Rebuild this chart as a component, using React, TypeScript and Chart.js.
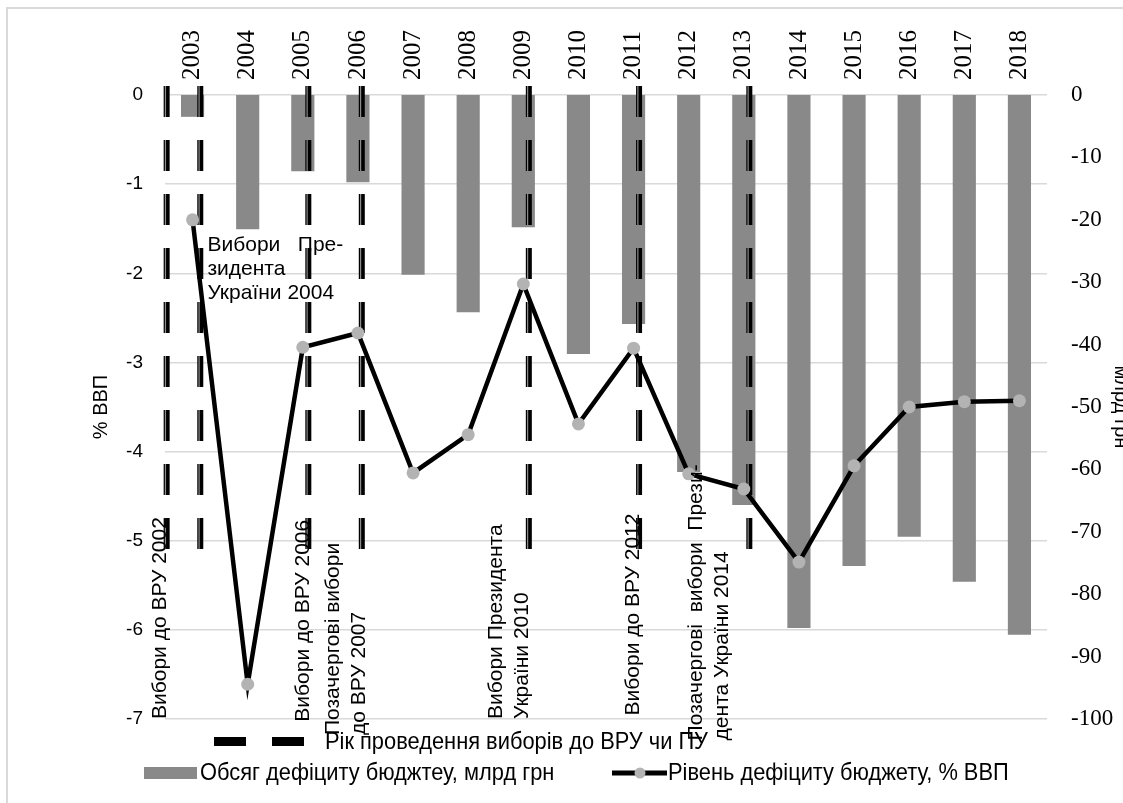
import React, { useEffect, useRef } from "react";
import { Chart, registerables } from "chart.js";

Chart.register(...registerables);

// ---------- data ----------
const years = ["2003", "2004", "2005", "2006", "2007", "2008", "2009", "2010", "2011", "2012", "2013", "2014", "2015", "2016", "2017", "2018"];
// Обсяг дефіциту бюджету, млрд грн (right axis)
const deficitBn = [-3.5, -21.5, -12.2, -14.0, -28.8, -34.8, -21.2, -41.5, -36.7, -60.4, -65.7, -85.4, -75.5, -70.8, -78.0, -86.5];
// Рівень дефіциту бюджету, % ВВП (left axis)
const deficitPct = [-1.4, -6.61, -2.83, -2.67, -4.24, -3.81, -2.12, -3.69, -2.84, -4.25, -4.42, -5.24, -4.16, -3.5, -3.44, -3.43];

const leftAxis = { min: -7, max: 0, step: 1 };
const rightAxis = { min: -100, max: 0, step: 10 };

// election marker lines (category-index positions), spanning left-axis values
const electionLinePos = [-0.47, 0.14, 2.1, 3.07, 6.1, 8.1, 10.1];
const electionLineTop = 0.1;
const electionLineBottom = -5.1;

// rotated annotations: category-index centre, left-axis value of text start (bottom)
const rotatedNotes = [
  { lines: ["Вибори до ВРУ 2002"], x: -0.58, y: -7.0 },
  { lines: ["Вибори до ВРУ 2006"], x: 2.0, y: -7.03 },
  { lines: ["Позачергові вибори", "до ВРУ 2007"], x: 2.79, y: -7.18 },
  { lines: ["Вибори Президента", "України 2010"], x: 5.74, y: -7.0 },
  { lines: ["Вибори до ВРУ 2012"], x: 7.99, y: -6.96 },
  { lines: ["Позачергові  вибори  Прези-", "дента України 2014"], x: 9.37, y: -7.24 },
];
const horizontalNote = { lines: ["Вибори   Пре-", "зидента", "України 2004"], x: 0.27, y: -1.68 };

const legendElections = "Рік проведення виборів до ВРУ чи ПУ";
const legendBars = "Обсяг дефіциту бюджтеу, млрд грн";
const legendLine = "Рівень дефіциту бюджету, % ВВП";

const SANS = '"Liberation Sans", Arial, sans-serif';
const SERIF = '"Liberation Serif", "Times New Roman", serif';
const BAR_COLOR = "#898989";
const POINT_COLOR = "#b3b3b3";

const electionPlugin = {
  id: "electionLines",
  afterDatasetDraw(chart: any, args: any) {
    if (args.meta.type !== "bar") return;
    const { ctx } = chart;
    const xs = chart.scales.x;
    const ys = chart.scales.y;
    const y0 = ys.getPixelForValue(electionLineTop);
    const y1 = ys.getPixelForValue(electionLineBottom);
    ctx.save();
    ctx.setLineDash([31, 23]);
    for (const p of electionLinePos) {
      const px = xs.getPixelForValue(p);
      ctx.strokeStyle = "#000";
      ctx.lineWidth = 6;
      ctx.beginPath();
      ctx.moveTo(px, y0);
      ctx.lineTo(px, y1);
      ctx.stroke();
      ctx.strokeStyle = "#8c8c8c";
      ctx.lineWidth = 1.2;
      ctx.beginPath();
      ctx.moveTo(px - 1.2, y0);
      ctx.lineTo(px - 1.2, y1);
      ctx.stroke();
    }
    ctx.restore();
  },
};

const notesPlugin = {
  id: "notes",
  afterDraw(chart: any) {
    const { ctx } = chart;
    const xs = chart.scales.x;
    const ys = chart.scales.y;
    ctx.save();
    ctx.fillStyle = "#000";
    ctx.font = `21px ${SANS}`;
    ctx.textBaseline = "middle";
    ctx.textAlign = "left";
    const spacing = 26;
    for (const n of rotatedNotes) {
      const cx = xs.getPixelForValue(n.x);
      const by = ys.getPixelForValue(n.y);
      n.lines.forEach((line, i) => {
        const lx = cx + (i - (n.lines.length - 1) / 2) * spacing;
        ctx.save();
        ctx.translate(lx, by);
        ctx.rotate(-Math.PI / 2);
        ctx.fillText(line, 0, 0);
        ctx.restore();
      });
    }
    {
      const lx = xs.getPixelForValue(horizontalNote.x);
      const ly = ys.getPixelForValue(horizontalNote.y);
      horizontalNote.lines.forEach((line, i) => {
        ctx.fillText(line, lx, ly + i * 24);
      });
    }

    // ---- legend ----
    const drawText = (t: string, x: number, y: number) => {
      ctx.save();
      ctx.translate(x, y);
      ctx.scale(0.91, 1);
      ctx.font = `24px ${SANS}`;
      ctx.fillText(t, 0, 0);
      ctx.restore();
    };
    // row 1
    ctx.fillStyle = "#000";
    ctx.fillRect(214, 737, 32, 9);
    ctx.fillRect(272, 737, 32, 9);
    drawText(legendElections, 325, 742);
    // row 2
    ctx.fillStyle = BAR_COLOR;
    ctx.fillRect(144, 767, 53, 12);
    ctx.fillStyle = "#000";
    drawText(legendBars, 200, 773);
    ctx.strokeStyle = "#000";
    ctx.lineWidth = 5;
    ctx.beginPath();
    ctx.moveTo(612, 773);
    ctx.lineTo(667, 773);
    ctx.stroke();
    ctx.fillStyle = POINT_COLOR;
    ctx.beginPath();
    ctx.arc(640, 773, 5.5, 0, Math.PI * 2);
    ctx.fill();
    ctx.fillStyle = "#000";
    drawText(legendLine, 668, 773);
    ctx.restore();
  },
};

export default function App() {
  const ref = useRef<HTMLCanvasElement>(null);

  useEffect(() => {
    if (!ref.current) return;
    const chart = new Chart(ref.current, {
      type: "bar",
      data: {
        labels: years,
        datasets: [
          {
            type: "line",
            label: legendLine,
            data: deficitPct,
            yAxisID: "y",
            borderColor: "#000",
            borderWidth: 4.5,
            pointRadius: 6.5,
            pointBackgroundColor: POINT_COLOR,
            pointBorderColor: POINT_COLOR,
            pointBorderWidth: 0,
            tension: 0,
            order: 0,
          } as any,
          {
            type: "bar",
            label: legendBars,
            data: deficitBn,
            yAxisID: "y1",
            backgroundColor: BAR_COLOR,
            categoryPercentage: 1,
            barPercentage: 0.42,
            order: 1,
          },
        ],
      },
      options: {
        responsive: false,
        animation: false,
        layout: { padding: { left: 0, right: 0, top: 0, bottom: 84 } },
        plugins: { legend: { display: false }, tooltip: { enabled: false } },
        scales: {
          x: {
            position: "top",
            grid: { display: false, drawTicks: false },
            border: { display: false },
            ticks: {
              minRotation: 90,
              maxRotation: 90,
              autoSkip: false,
              padding: 15,
              labelOffset: 30,
              color: "#000",
              font: { family: SERIF, size: 25 },
            },
            afterFit(s: any) {
              s.height = 95;
            },
          },
          y: {
            position: "left",
            min: leftAxis.min,
            max: leftAxis.max,
            ticks: { stepSize: leftAxis.step, color: "#000", padding: 22, font: { family: SANS, size: 19 } },
            grid: { color: "#d9d9d9", lineWidth: 1.5, drawTicks: false },
            border: { display: false },
            title: {
              display: true,
              text: "% ВВП",
              color: "#000",
              font: { family: SANS, size: 20 },
              padding: { top: 89, bottom: 0 },
            },
            afterFit(s: any) {
              s.width = 165;
            },
          },
          y1: {
            position: "right",
            min: rightAxis.min,
            max: rightAxis.max,
            ticks: { stepSize: rightAxis.step, color: "#000", padding: 24, font: { family: SERIF, size: 23 } },
            grid: { display: false, drawTicks: false },
            border: { display: false },
            title: {
              display: true,
              text: "млрд грн",
              color: "#000",
              font: { family: SANS, size: 20 },
              padding: { top: 0, bottom: 0 },
            },
            afterFit(s: any) {
              s.width = 86;
            },
          },
        },
      },
      plugins: [electionPlugin, notesPlugin],
    });
    return () => chart.destroy();
  }, []);

  return (
    <div style={{ position: "absolute", left: 0, top: 0, width: 1123, height: 803, overflow: "hidden", background: "#fff" }}>
      <canvas ref={ref} width={1133} height={803} style={{ position: "absolute", left: 0, top: 0, width: 1133, height: 803 }} />
      <div
        style={{
          position: "absolute",
          left: 6,
          top: 7,
          width: 1130,
          height: 810,
          borderLeft: "2px solid #d9d9d9",
          borderTop: "2px solid #d9d9d9",
          pointerEvents: "none",
        }}
      />
    </div>
  );
}
